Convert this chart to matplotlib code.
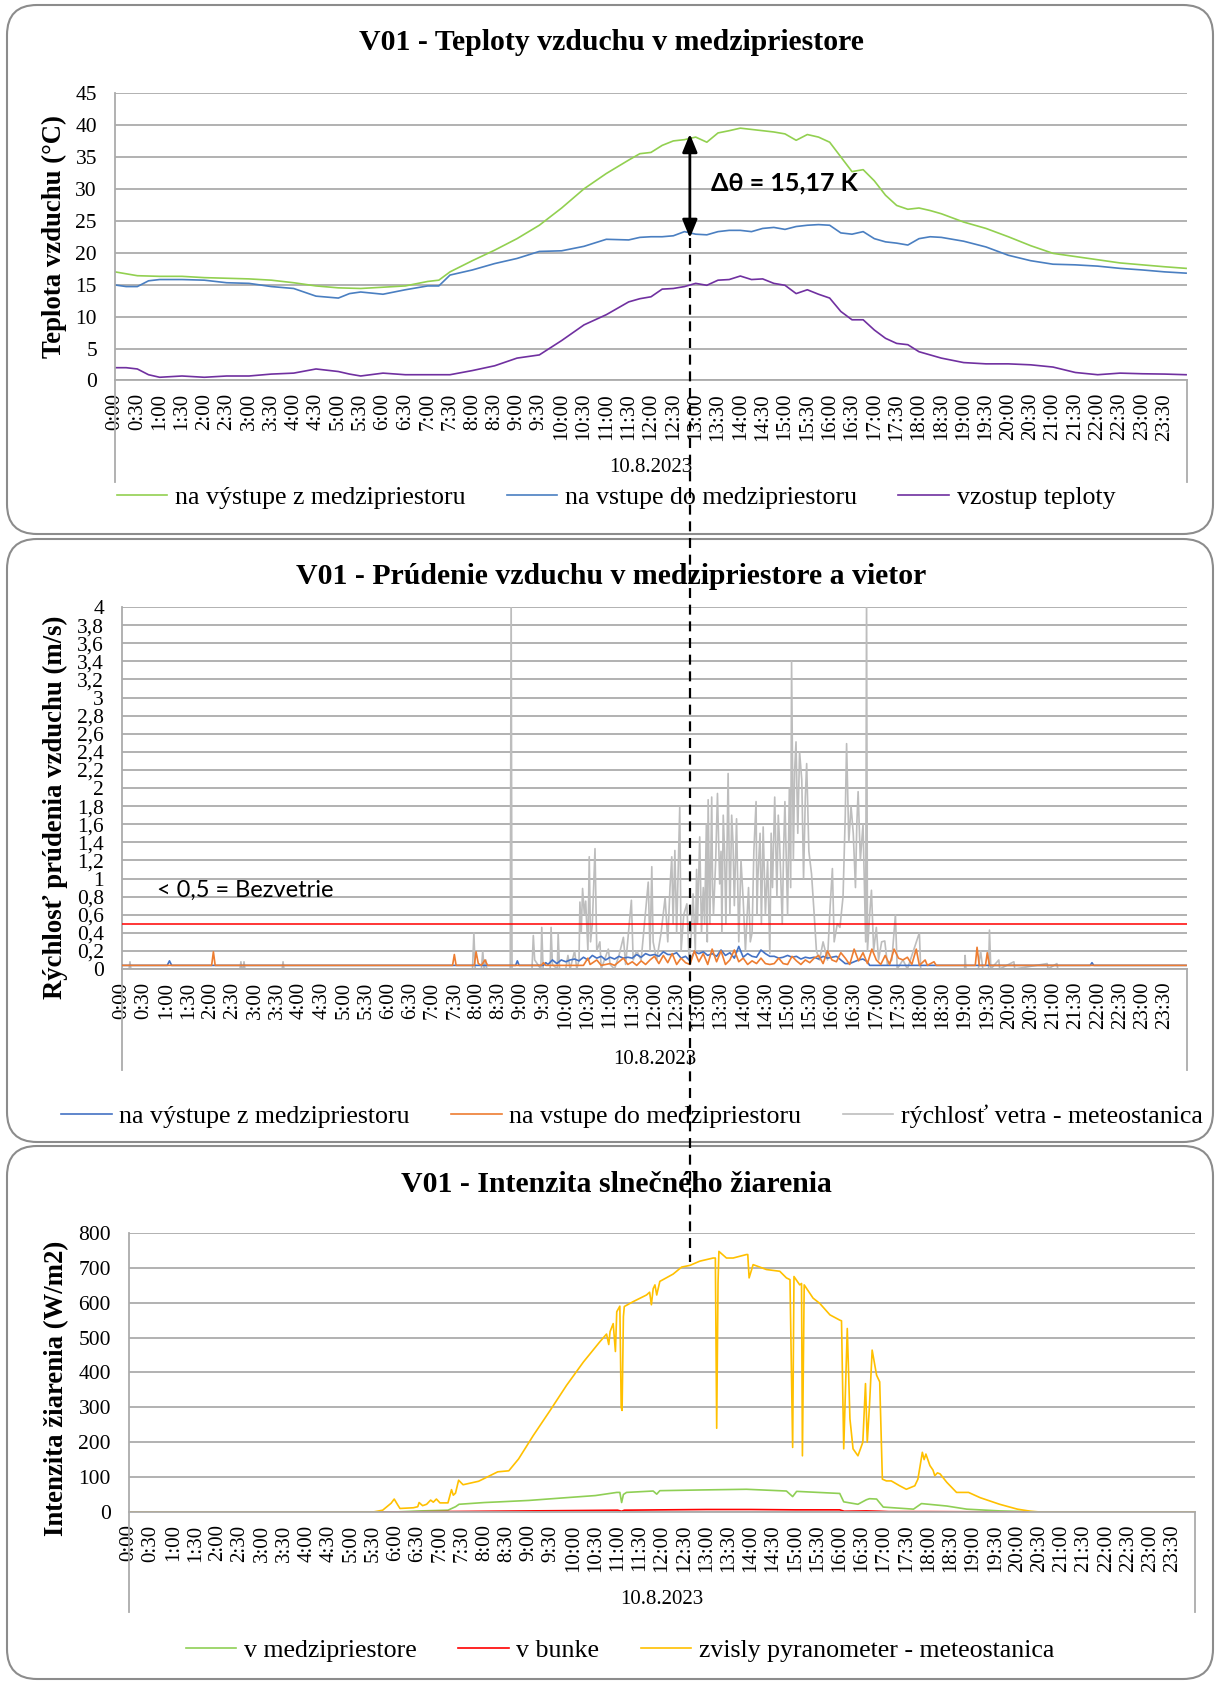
import matplotlib
matplotlib.use("Agg")
import matplotlib.pyplot as plt
from matplotlib.patches import FancyBboxPatch
from matplotlib.lines import Line2D
from matplotlib.ticker import FuncFormatter

plt.rcParams['font.family'] = ['Liberation Serif', 'DejaVu Serif']

# ---------- data (time in hours, 10.8.2023) ----------
tick_labels = ["%d:%02d" % (i // 2, 30 * (i % 2)) for i in range(48)]
date_label = "10.8.2023"

# panel 1 - air temperatures
t_temp = [0, 0.25, 0.5, 0.75, 1, 1.5, 2, 2.5, 3, 3.5, 4, 4.5, 5, 5.25, 5.5, 6, 6.5, 7, 7.25,
          7.5, 8, 8.5, 9, 9.5, 10, 10.5, 11, 11.5, 11.75, 12, 12.25, 12.5, 12.75, 13, 13.25,
          13.5, 13.75, 14, 14.25, 14.5, 14.75, 15, 15.25, 15.5, 15.75, 16, 16.25, 16.5, 16.75,
          17, 17.25, 17.5, 17.75, 18, 18.25, 18.5, 19, 19.5, 20, 20.5, 21, 21.5, 22, 22.5, 23,
          23.5, 23.98]
temp_out = [17.0, 16.7, 16.4, 16.35, 16.3, 16.3, 16.1, 16.0, 15.9, 15.7, 15.3, 14.8, 14.5, 14.45,
            14.4, 14.6, 14.8, 15.5, 15.7, 17.0, 18.75, 20.4, 22.2, 24.3, 27.0, 30.0, 32.4, 34.5,
            35.5, 35.7, 36.8, 37.5, 37.7, 38.1, 37.3, 38.75, 39.1, 39.5, 39.3, 39.1, 38.9, 38.6,
            37.6, 38.5, 38.1, 37.3, 35.0, 32.7, 33.0, 31.25, 29.0, 27.4, 26.8, 27.0, 26.6, 26.1,
            24.8, 23.8, 22.5, 21.1, 19.9, 19.4, 18.9, 18.4, 18.1, 17.8, 17.55]
temp_in = [14.95, 14.7, 14.7, 15.6, 15.8, 15.8, 15.7, 15.3, 15.2, 14.7, 14.4, 13.2, 12.9, 13.6,
           13.85, 13.5, 14.2, 14.8, 14.8, 16.5, 17.3, 18.3, 19.1, 20.2, 20.3, 21.0, 22.1, 22.0,
           22.4, 22.5, 22.5, 22.65, 23.3, 22.9, 22.8, 23.3, 23.5, 23.5, 23.3, 23.8, 23.96, 23.65,
           24.1, 24.3, 24.4, 24.3, 23.1, 22.9, 23.3, 22.2, 21.7, 21.5, 21.2, 22.2, 22.5, 22.4,
           21.8, 20.9, 19.6, 18.75, 18.2, 18.1, 17.9, 17.55, 17.3, 17.0, 16.8]
temp_rise = [2.0, 2.0, 1.8, 0.9, 0.5, 0.7, 0.5, 0.7, 0.7, 1.0, 1.15, 1.8, 1.4, 1.0, 0.7, 1.15,
             0.9, 0.9, 0.9, 0.9, 1.55, 2.3, 3.5, 4.0, 6.25, 8.7, 10.3, 12.3, 12.8, 13.1, 14.3,
             14.4, 14.7, 15.2, 14.9, 15.7, 15.8, 16.35, 15.8, 15.9, 15.2, 14.9, 13.6, 14.2, 13.5,
             12.9, 10.8, 9.5, 9.5, 7.9, 6.6, 5.8, 5.6, 4.5, 4.0, 3.5, 2.8, 2.6, 2.6, 2.45, 2.1,
             1.25, 0.9, 1.15, 1.05, 1.0, 0.9]
cut_time = 12.87
arrow_top, arrow_bottom = 38.6, 22.3

# panel 2 - air flow and wind
flow_out = [(0, 0.04), (1.02, 0.04), (1.07, 0.09), (1.12, 0.04), (8.87, 0.04), (8.91, 0.09),
            (8.95, 0.04), (9.5, 0.04), (9.55, 0.07), (9.6, 0.05), (9.7, 0.1), (9.8, 0.06),
            (9.9, 0.1), (10.0, 0.08), (10.1, 0.1), (10.2, 0.11), (10.3, 0.09), (10.4, 0.13),
            (10.5, 0.1), (10.6, 0.15), (10.7, 0.12), (10.8, 0.14), (10.9, 0.1), (11.0, 0.13),
            (11.1, 0.11), (11.2, 0.14), (11.3, 0.12), (11.4, 0.13), (11.5, 0.12), (11.6, 0.16),
            (11.7, 0.13), (11.8, 0.17), (11.9, 0.15), (12.0, 0.16), (12.1, 0.14), (12.2, 0.19),
            (12.3, 0.16), (12.4, 0.16), (12.5, 0.18), (12.6, 0.12), (12.7, 0.14), (12.8, 0.09),
            (12.9, 0.19), (13.0, 0.17), (13.1, 0.19), (13.2, 0.15), (13.3, 0.17), (13.4, 0.14),
            (13.5, 0.21), (13.6, 0.15), (13.7, 0.18), (13.8, 0.12), (13.9, 0.25), (14.0, 0.13),
            (14.1, 0.17), (14.2, 0.14), (14.3, 0.13), (14.4, 0.21), (14.5, 0.17), (14.6, 0.14),
            (14.7, 0.14), (14.8, 0.12), (14.9, 0.13), (15.0, 0.15), (15.1, 0.13), (15.2, 0.14),
            (15.3, 0.11), (15.4, 0.13), (15.5, 0.12), (15.6, 0.13), (15.7, 0.11), (15.8, 0.14),
            (15.9, 0.12), (16.0, 0.13), (16.1, 0.14), (16.2, 0.1), (16.3, 0.06), (16.4, 0.06),
            (16.5, 0.08), (16.6, 0.1), (16.7, 0.11), (16.8, 0.08), (16.85, 0.04), (21.82, 0.04),
            (21.86, 0.07), (21.9, 0.04), (23.98, 0.04)]
flow_in = [(0, 0.04), (2.02, 0.04), (2.06, 0.19), (2.1, 0.04), (7.45, 0.04), (7.49, 0.16),
           (7.53, 0.04), (7.94, 0.04), (7.98, 0.19), (8.03, 0.06), (8.1, 0.04), (8.18, 0.1),
           (8.24, 0.04), (9.45, 0.04), (9.5, 0.07), (9.55, 0.04), (10.4, 0.04), (10.5, 0.12),
           (10.55, 0.05), (10.7, 0.1), (10.8, 0.04), (11.0, 0.06), (11.1, 0.04), (11.3, 0.12),
           (11.4, 0.05), (11.5, 0.08), (11.6, 0.04), (11.7, 0.09), (11.8, 0.05), (11.9, 0.1),
           (12.0, 0.14), (12.1, 0.06), (12.2, 0.15), (12.3, 0.07), (12.4, 0.17), (12.5, 0.05),
           (12.6, 0.12), (12.7, 0.07), (12.8, 0.05), (12.9, 0.2), (13.0, 0.08), (13.1, 0.17),
           (13.2, 0.05), (13.3, 0.22), (13.4, 0.08), (13.5, 0.2), (13.6, 0.05), (13.7, 0.1),
           (13.8, 0.21), (13.9, 0.08), (14.0, 0.12), (14.1, 0.05), (14.2, 0.09), (14.3, 0.06),
           (14.4, 0.12), (14.5, 0.06), (14.6, 0.05), (14.7, 0.06), (14.8, 0.12), (14.9, 0.06),
           (15.0, 0.05), (15.1, 0.14), (15.2, 0.09), (15.3, 0.05), (15.4, 0.1), (15.5, 0.07),
           (15.6, 0.12), (15.7, 0.15), (15.8, 0.06), (15.9, 0.2), (16.0, 0.1), (16.1, 0.08),
           (16.2, 0.18), (16.3, 0.12), (16.4, 0.05), (16.5, 0.22), (16.6, 0.09), (16.7, 0.18),
           (16.8, 0.06), (16.9, 0.22), (17.0, 0.1), (17.1, 0.05), (17.2, 0.15), (17.3, 0.05),
           (17.4, 0.22), (17.5, 0.12), (17.6, 0.1), (17.7, 0.13), (17.8, 0.05), (17.9, 0.22),
           (17.97, 0.04), (18.1, 0.1), (18.15, 0.04), (18.3, 0.08), (18.35, 0.04), (19.23, 0.04),
           (19.27, 0.24), (19.32, 0.04), (19.46, 0.04), (19.5, 0.18), (19.55, 0.04), (23.98, 0.04)]
wind = [(0.0, 0), (0.16, 0), (0.18, 0.08), (0.2, 0), (2.66, 0), (2.68, 0.08), (2.7, 0),
        (2.73, 0), (2.75, 0.08), (2.77, 0), (3.61, 0), (3.63, 0.08), (3.65, 0), (7.9, 0),
        (7.93, 0.4), (7.96, 0), (8.1, 0), (8.13, 0.2), (8.16, 0), (8.2, 0.1), (8.22, 0),
        (8.75, 0), (8.77, 4.2), (8.79, 0), (9.24, 0), (9.27, 0.37), (9.3, 0.1), (9.44, 0),
        (9.46, 0.46), (9.49, 0), (9.65, 0), (9.67, 0.46), (9.7, 0.05), (9.81, 0), (9.83, 0.39),
        (9.86, 0), (10.0, 0), (10.05, 0.15), (10.1, 0), (10.2, 0.2), (10.25, 0), (10.3, 0.1),
        (10.32, 0.74), (10.35, 0.4), (10.38, 0.89), (10.42, 0.6), (10.45, 0.75), (10.5, 0.2),
        (10.53, 1.24), (10.56, 0.3), (10.6, 0.5), (10.66, 1.33), (10.7, 0.2), (10.77, 0.3),
        (10.8, 0), (10.96, 0.22), (11.0, 0.05), (11.1, 0), (11.2, 0.15), (11.3, 0.35),
        (11.35, 0.05), (11.48, 0.76), (11.52, 0.1), (11.6, 0.2), (11.7, 0.1), (11.86, 0.96),
        (11.9, 0.2), (11.94, 1.13), (11.97, 0.3), (12.05, 0.1), (12.15, 0.4), (12.24, 0.79),
        (12.3, 0.3), (12.35, 0.9), (12.39, 1.24), (12.42, 0.5), (12.46, 1.31), (12.5, 0.4),
        (12.53, 1.0), (12.57, 1.79), (12.6, 0.2), (12.66, 0.6), (12.73, 0.72), (12.78, 0.1),
        (12.82, 0.3), (12.87, 0.83), (12.92, 0.2), (12.95, 1.1), (12.97, 0.5), (13.02, 1.46),
        (13.06, 0.4), (13.1, 0.9), (13.13, 0.5), (13.17, 1.6), (13.19, 0.3), (13.21, 1.87),
        (13.25, 0.5), (13.29, 1.9), (13.31, 0.9), (13.33, 0.6), (13.38, 1.2), (13.42, 1.94),
        (13.47, 0.94), (13.5, 1.3), (13.52, 0.4), (13.55, 1.7), (13.58, 1.3), (13.61, 0.5),
        (13.66, 2.16), (13.7, 0.6), (13.74, 1.7), (13.77, 1.4), (13.8, 0.7), (13.85, 1.66),
        (13.9, 0.3), (13.95, 1.2), (14.0, 0.76), (14.05, 0.2), (14.12, 0.9), (14.16, 0.3),
        (14.2, 0.4), (14.24, 1.3), (14.29, 1.85), (14.31, 0.6), (14.33, 1.0), (14.38, 1.5),
        (14.41, 0.5), (14.45, 1.57), (14.5, 0.6), (14.55, 1.2), (14.6, 0.17), (14.63, 1.5),
        (14.66, 0.9), (14.71, 1.9), (14.76, 0.8), (14.79, 1.7), (14.82, 1.4), (14.88, 0.5),
        (14.91, 1.3), (14.94, 1.85), (15.0, 0.6), (15.04, 2.0), (15.07, 0.9), (15.09, 3.4),
        (15.13, 1.2), (15.16, 2.2), (15.19, 2.51), (15.23, 1.5), (15.27, 2.4), (15.32, 2.09),
        (15.36, 1.0), (15.4, 1.9), (15.43, 2.27), (15.48, 1.3), (15.54, 1.05), (15.6, 0.6),
        (15.65, 0.2), (15.72, 0.1), (15.8, 0.3), (15.9, 0.1), (15.96, 0.7), (16.01, 1.11),
        (16.05, 0.3), (16.12, 0.5), (16.18, 0.46), (16.25, 0.8), (16.3, 1.7), (16.33, 2.49),
        (16.38, 1.4), (16.43, 1.8), (16.48, 1.5), (16.53, 0.9), (16.56, 1.6), (16.59, 1.96),
        (16.64, 1.2), (16.7, 1.6), (16.76, 0.3), (16.78, 4.2), (16.8, 0.2), (16.85, 0.6),
        (16.89, 0.87), (16.94, 0.2), (17.0, 0.46), (17.05, 0.1), (17.12, 0.3), (17.19, 0.31),
        (17.25, 0.05), (17.35, 0.1), (17.43, 0.6), (17.47, 0), (17.6, 0.1), (17.7, 0),
        (17.97, 0.4), (18.0, 0), (18.99, 0), (19.0, 0.15), (19.02, 0), (19.3, 0), (19.35, 0.2),
        (19.4, 0), (19.53, 0), (19.55, 0.43), (19.58, 0), (19.76, 0.1), (19.78, 0),
        (20.1, 0.08), (20.12, 0), (20.85, 0.06), (20.87, 0), (21.07, 0.06), (21.09, 0),
        (23.98, 0)]
calm_limit = 0.5

# panel 3 - solar radiation
rad_vertical = [(0, 0), (5.5, 0), (5.71, 5), (5.9, 25), (5.97, 37), (6.05, 20), (6.1, 10),
                (6.4, 12), (6.5, 15), (6.53, 27), (6.61, 18), (6.7, 22), (6.79, 34), (6.85, 28),
                (6.92, 37), (7.0, 26), (7.18, 26), (7.26, 64), (7.3, 48), (7.35, 54), (7.42, 91),
                (7.52, 78), (7.87, 88), (8.3, 115), (8.55, 118), (8.77, 152), (9.1, 219),
                (9.48, 291), (9.85, 363), (10.23, 430), (10.6, 488), (10.75, 510), (10.8, 480),
                (10.83, 517), (10.9, 540), (10.95, 460), (10.98, 574), (11.05, 590), (11.08, 300),
                (11.1, 291), (11.13, 560), (11.15, 589), (11.35, 603), (11.65, 622), (11.72, 630),
                (11.76, 594), (11.8, 640), (11.84, 651), (11.88, 622), (11.95, 661), (12.25, 682),
                (12.44, 702), (12.63, 707), (12.85, 719), (13.15, 728), (13.2, 728), (13.23, 240),
                (13.26, 656), (13.28, 747), (13.45, 728), (13.6, 728), (13.9, 738), (13.93, 738),
                (13.96, 671), (14.05, 709), (14.35, 695), (14.65, 690), (14.8, 671), (14.88, 666),
                (14.94, 185), (14.97, 675), (15.05, 660), (15.1, 651), (15.14, 655), (15.16, 161),
                (15.2, 651), (15.4, 613), (15.55, 598), (15.78, 565), (16.0, 550), (16.04, 548),
                (16.09, 181), (16.17, 526), (16.23, 267), (16.3, 181), (16.41, 161), (16.52, 200),
                (16.58, 368), (16.62, 200), (16.67, 305), (16.73, 464), (16.83, 392), (16.9, 373),
                (16.96, 94), (17.05, 89), (17.16, 89), (17.35, 75), (17.5, 65), (17.69, 75),
                (17.76, 94), (17.86, 171), (17.9, 150), (17.94, 166), (18.03, 133), (18.1, 120),
                (18.14, 104), (18.2, 112), (18.26, 109), (18.41, 85), (18.63, 56), (18.9, 56),
                (19.16, 41), (19.6, 22), (20.0, 8), (20.3, 2), (20.5, 0), (23.98, 0)]
rad_cavity = [(0, 0), (6.0, 0), (6.57, 3), (7.18, 5), (7.35, 15), (7.43, 22), (8.0, 27),
              (8.35, 29), (9.0, 33), (9.85, 41), (10.5, 47), (10.98, 56), (11.05, 56),
              (11.09, 27), (11.13, 50), (11.2, 56), (11.8, 60), (11.88, 51), (11.95, 61),
              (12.85, 63), (13.9, 65), (14.8, 60), (14.94, 44), (15.03, 59), (16.0, 53),
              (16.09, 29), (16.41, 22), (16.6, 35), (16.67, 38), (16.83, 37), (16.98, 14),
              (17.66, 8), (17.84, 24), (18.41, 17), (18.86, 8), (19.6, 3), (20.5, 0), (23.98, 0)]
rad_cell = [(0, 0), (6.0, 0), (7.0, 1), (8.0, 2), (9.0, 3), (10.0, 4), (11.0, 5), (11.09, 2),
            (11.15, 5), (12.0, 6), (13.0, 7), (14.0, 7), (15.0, 6), (16.0, 6), (16.1, 2),
            (16.6, 3), (16.9, 2), (17.1, 1), (18.0, 1), (19.0, 0.5), (20.0, 0), (23.98, 0)]
dash_end_value = 717

GRID = '#ABABAB'
BORDER = '#8C8C8C'
TITLE_FS = 21.4
YLAB_FS = 19.3
LEG_FS = 18.6


def xy(pairs):
    return [p[0] for p in pairs], [p[1] for p in pairs]


fig = plt.figure(figsize=(12.15, 16.82), dpi=100)

# rounded panel frames (inches)
for y0, y1 in [(11.48, 16.77), (5.40, 11.43), (0.03, 5.36)]:
    fig.add_artist(FancyBboxPatch((0.07, y0), 12.06, y1 - y0,
                                  boxstyle="round,pad=0,rounding_size=0.3",
                                  transform=fig.dpi_scale_trans, facecolor='none',
                                  edgecolor=BORDER, lw=1.5, zorder=0))


def style_axis(ax, ymax, ystep, ext, date_y):
    ax.set_xlim(0, 24)
    ax.set_ylim(0, ymax)
    ax.set_xticks([i * 0.5 for i in range(48)])
    ax.set_xticklabels(tick_labels, rotation=90, va='top', ha='center')
    n = int(round(ymax / ystep))
    ax.set_yticks([round(i * ystep, 2) for i in range(n + 1)])
    ax.tick_params(axis='x', length=0, labelsize=15, pad=9)
    ax.tick_params(axis='y', length=0, labelsize=15.5, pad=13)
    ax.grid(axis='y', color=GRID, lw=1.3)
    ax.set_axisbelow(True)
    for s in ['top', 'right']:
        ax.spines[s].set_visible(False)
    for s in ['left', 'bottom']:
        ax.spines[s].set_color(GRID)
        ax.spines[s].set_linewidth(1.3)
    for xa in (0, 1):
        ax.plot([xa, xa], [0, -ext], transform=ax.transAxes, color=GRID, lw=1.3,
                clip_on=False)
    ax.text(0.5, date_y, date_label, transform=ax.transAxes, ha='center', va='center',
            fontsize=15)


def add_legend(handles, labels, cx, cy):
    fig.legend(handles, labels, loc='center', ncol=3, frameon=False,
               bbox_to_anchor=(cx / 1215, 1 - cy / 1682), fontsize=LEG_FS,
               handlelength=1.95, handletextpad=0.3, columnspacing=1.6)


# ---------- panel 1 ----------
ax1 = fig.add_axes([0.09465, 0.7738, 0.8823, 0.1709])
style_axis(ax1, 45, 5, 0.353, -0.304)
ax1.plot(t_temp, temp_out, color='#92D050', lw=1.2, label='na výstupe z medzipriestoru')
ax1.plot(t_temp, temp_in, color='#4A7FC1', lw=1.2, label='na vstupe do medzipriestoru')
ax1.plot(t_temp, temp_rise, color='#7030A0', lw=1.2, label='vzostup teploty')
ax1.annotate('', xy=(cut_time, arrow_top), xytext=(cut_time, arrow_bottom),
             arrowprops=dict(arrowstyle='<|-|>,head_length=1.1,head_width=0.45',
                             color='black', lw=2, shrinkA=0, shrinkB=0))
ax1.text(13.34, 30.9, 'Δθ = 15,17 K', fontsize=18, fontweight='bold',
         family=['Lato', 'DejaVu Sans'], va='center', ha='left')
fig.text(0.503, 1 - 43 / 1682, 'V01 - Teploty vzduchu v medzipriestore', ha='center',
         va='center', fontsize=TITLE_FS, fontweight='bold')
fig.text(54 / 1215, 1 - 237 / 1682, 'Teplota vzduchu (°C)', rotation=90, ha='center',
         va='center', fontsize=YLAB_FS, fontweight='bold')
add_legend(*ax1.get_legend_handles_labels(), 616, 497)

# ---------- panel 2 ----------
ax2 = fig.add_axes([0.1004, 0.4239, 0.8765, 0.2152])
style_axis(ax2, 4, 0.2, 0.279, -0.249)
ax2.yaxis.set_major_formatter(FuncFormatter(lambda v, p: ('%g' % round(v, 1)).replace('.', ',')))
wx, wy = xy(wind)
ax2.plot(wx, wy, color='#BDBDBD', lw=1.2, label='rýchlosť vetra - meteostanica', zorder=2)
ox, oy = xy(flow_out)
ix, iy = xy(flow_in)
ax2.plot(ox, oy, color='#4472C4', lw=1.2, label='na výstupe z medzipriestoru', zorder=3)
ax2.plot(ix, iy, color='#ED7D31', lw=1.2, label='na vstupe do medzipriestoru', zorder=3)
ax2.axhline(calm_limit, color='red', lw=1.1, zorder=4)
ax2.text(0.79, 0.87, '< 0,5 = Bezvetrie', fontsize=17, family=['Lato', 'DejaVu Sans'],
         va='center', ha='left')
fig.text(0.503, 1 - 577 / 1682, 'V01 - Prúdenie vzduchu v medzipriestore a vietor',
         ha='center', va='center', fontsize=TITLE_FS, fontweight='bold')
fig.text(55 / 1215, 1 - 807 / 1682, 'Rýchlosť prúdenia vzduchu (m/s)', rotation=90,
         ha='center', va='center', fontsize=YLAB_FS, fontweight='bold')
h2, lab2 = ax2.get_legend_handles_labels()
add_legend([h2[1], h2[2], h2[0]], [lab2[1], lab2[2], lab2[0]], 632, 1116)

# ---------- panel 3 ----------
ax3 = fig.add_axes([0.1062, 0.1011, 0.8774, 0.1659])
style_axis(ax3, 800, 100, 0.358, -0.315)
cx, cy = xy(rad_cavity)
bx, by = xy(rad_cell)
vx, vy = xy(rad_vertical)
ax3.plot(cx, cy, color='#8FCF55', lw=1.2, label='v medzipriestore')
ax3.plot(bx, by, color='#FF0000', lw=1.2, label='v bunke')
ax3.plot(vx, vy, color='#FFC000', lw=1.2, label='zvisly pyranometer - meteostanica')
fig.text(0.507, 1 - 1184 / 1682, 'V01 - Intenzita slnečného žiarenia', ha='center',
         va='center', fontsize=TITLE_FS, fontweight='bold')
fig.text(57 / 1215, 1 - 1388 / 1682, 'Intenzita žiarenia (W/m2)', rotation=90, ha='center',
         va='center', fontsize=YLAB_FS, fontweight='bold')
add_legend(*ax3.get_legend_handles_labels(), 620, 1650)

# dashed marker line through all panels
x_px, y_top = ax1.transData.transform((cut_time, arrow_bottom))
y_bot = ax3.transData.transform((0, dash_end_value))[1]
inv = fig.transFigure.inverted()
(fx, fy0) = inv.transform((x_px, y_top))
(_, fy1) = inv.transform((x_px, y_bot))
fig.add_artist(Line2D([fx, fx], [fy0, fy1], transform=fig.transFigure, color='black',
                      lw=1.6, dashes=(4.5, 3), zorder=10))

fig.savefig('out.png', dpi=100)
